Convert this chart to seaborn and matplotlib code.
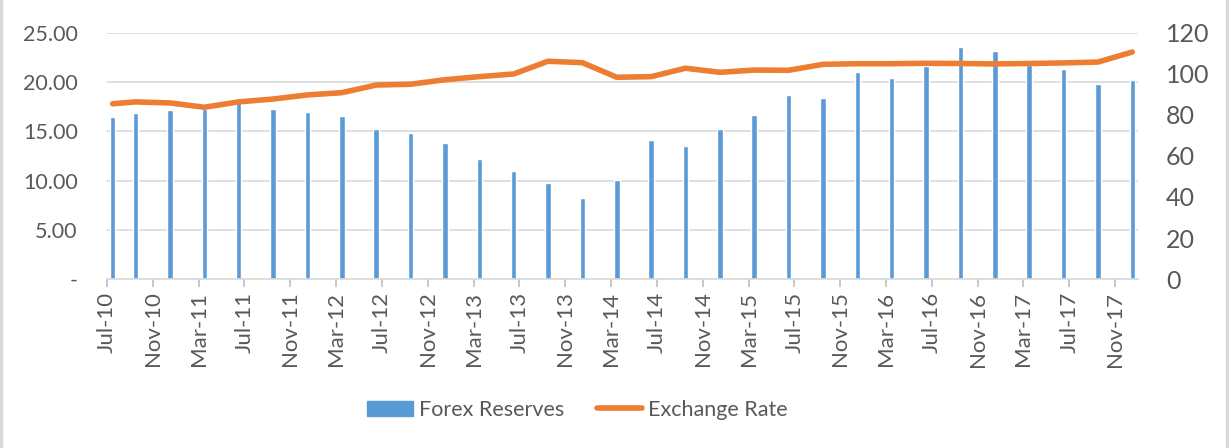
# forex reserves (bars, left axis) vs exchange rate (line, right axis)
import pandas as pd
import numpy as np
from matplotlib import pyplot as plt
from matplotlib.lines import Line2D
import seaborn as sns

# months counted from Jul-10 (0) ... Dec-17 (89)
months = [0, 2, 5, 8, 11, 14, 17, 20, 23, 26, 29, 32, 35, 38, 41, 44, 47, 50,
          53, 56, 59, 62, 65, 68, 71, 74, 77, 80, 83, 86, 89]
forex = [16.45, 16.9, 17.15, 17.3, 18.0, 17.3, 17.0, 16.5, 15.25, 14.85, 13.8,
         12.2, 10.97, 9.76, 8.24, 10.03, 14.08, 13.47, 15.23, 16.6, 18.67, 18.33,
         21.03, 20.4, 21.6, 23.57, 23.13, 21.7, 21.34, 19.75, 20.16]
rate = [85.4, 86.3, 85.8, 83.7, 86.3, 87.7, 89.7, 90.8, 94.5, 94.9, 97.1, 98.6,
        99.9, 106.1, 105.4, 98.3, 98.6, 102.7, 100.7, 101.8, 101.7, 104.6, 104.9,
        104.9, 105.1, 105.0, 104.8, 105.0, 105.3, 105.7, 110.6]
tick_labels = ['Jul-10', 'Nov-10', 'Mar-11', 'Jul-11', 'Nov-11', 'Mar-12', 'Jul-12',
               'Nov-12', 'Mar-13', 'Jul-13', 'Nov-13', 'Mar-14', 'Jul-14', 'Nov-14',
               'Mar-15', 'Jul-15', 'Nov-15', 'Mar-16', 'Jul-16', 'Nov-16', 'Mar-17',
               'Jul-17', 'Nov-17']

df = pd.DataFrame({'month': np.array(months) + 0.5, 'forex': forex, 'rate': rate})

sns.set_style('white')
plt.rcParams['font.family'] = ['Lato', 'DejaVu Sans']
grey = '#595959'
blue = '#5B9BD5'
orange = '#ED7D31'

fig, ax = plt.subplots(figsize=(12.29, 4.48), dpi=100)
fig.subplots_adjust(left=0.087, right=0.926, top=0.927, bottom=0.377)

sns.barplot(data=df, x='month', y='forex', native_scale=True, width=0.24,
            color=blue, saturation=1, ax=ax, label='Forex Reserves', zorder=2)
ax.set_ylim(0, 25)
ax.set_yticks(np.arange(0, 26, 5))
ax.set_yticklabels(['-'] + [f'{v:.2f}' for v in np.arange(5, 26, 5)],
                   fontsize=15.5, color=grey)
ax.yaxis.grid(True, color='#D9D9D9', linewidth=1.2)
ax.set_axisbelow(True)
ax.set_xlim(0, 90)
ax.set_xticks(np.arange(0, 90, 4))
ax.set_xticklabels(tick_labels, rotation=90, fontsize=16, color=grey)
ax.tick_params(axis='x', bottom=True, length=6, color='#BFBFBF', width=1.2, pad=3)
ax.tick_params(axis='y', length=0, pad=21)
ax.set_xlabel('')
ax.set_ylabel('')
for side in ['top', 'right', 'left']:
    ax.spines[side].set_visible(False)
ax.spines['bottom'].set_color('#D9D9D9')
ax.spines['bottom'].set_linewidth(1.2)

ax2 = ax.twinx()
sns.lineplot(data=df, x='month', y='rate', color=orange, linewidth=4,
             ax=ax2, label='Exchange Rate', solid_capstyle='round')
ax2.set_ylim(0, 120)
ax2.set_yticks(np.arange(0, 121, 20))
ax2.set_yticklabels([str(v) for v in range(0, 121, 20)], fontsize=18, color=grey)
ax2.tick_params(axis='y', length=0, pad=20)
ax2.set_ylabel('')
for side in ['top', 'right', 'left', 'bottom']:
    ax2.spines[side].set_visible(False)
if ax2.get_legend():
    ax2.get_legend().remove()
if ax.get_legend():
    ax.get_legend().remove()

handles = [plt.Rectangle((0, 0), 1, 1, color=blue),
           Line2D([0], [0], color=orange, linewidth=4, solid_capstyle='round')]
fig.legend(handles, ['Forex Reserves', 'Exchange Rate'], loc='center',
           bbox_to_anchor=(0.47, 0.085), ncol=2, frameon=False, fontsize=15.5,
           labelcolor=grey, handlelength=2.1, handleheight=0.7, columnspacing=1.5,
           handletextpad=0.3)

# light grey chart-area border on the sides
fig.add_artist(Line2D([0.001, 0.001], [0, 1], color='#D9D9D9', linewidth=2.5,
                      transform=fig.transFigure))
fig.add_artist(Line2D([0.998, 0.998], [0, 1], color='#D9D9D9', linewidth=2.5,
                      transform=fig.transFigure))

plt.savefig('out.png', dpi=100)
